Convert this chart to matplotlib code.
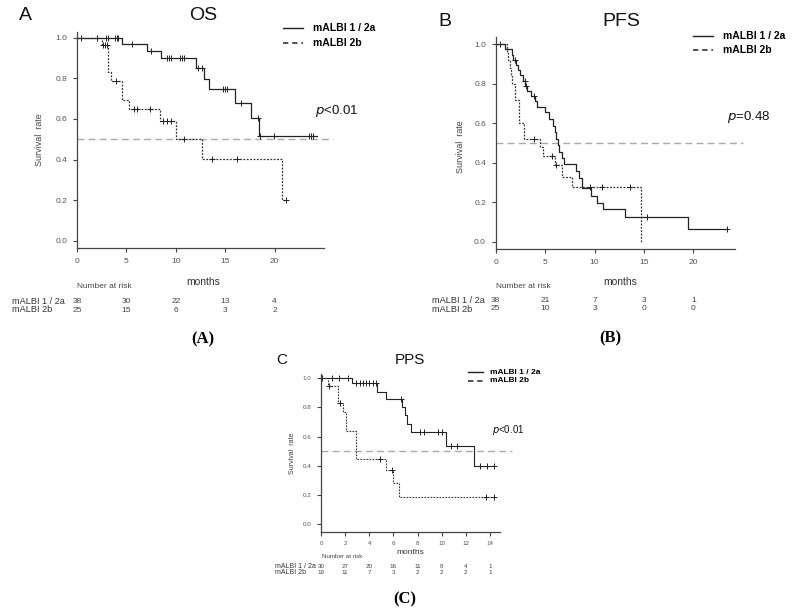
import numpy as np
import matplotlib
matplotlib.use("Agg")
import matplotlib.pyplot as plt
from matplotlib.lines import Line2D

plt.rcParams['font.family'] = ['Liberation Sans', 'DejaVu Sans']

W, H = 793, 613

# ---------------- data ----------------
# Panel A (OS)
a1_t = [4.6, 7.05, 8.55, 12.0, 12.87, 13.4, 15.95, 17.6, 18.45]
a1_s = [0.970, 0.936, 0.900, 0.850, 0.797, 0.746, 0.680, 0.603, 0.514]
a1_end = 24.3
a1_c = [0.4, 2.0, 2.9, 3.1, 3.8, 4.0, 4.2, 5.6, 7.5, 9.08, 9.29, 9.49, 10.47, 10.67, 10.87,
        12.23, 12.63, 15.02, 14.82, 15.23, 16.55, 18.37, 18.55, 19.93, 23.5, 23.7, 23.9]
a2_t = [2.5, 3.1, 3.45, 4.56, 5.3, 8.44, 10.0, 12.63, 20.74]
a2_s = [0.964, 0.832, 0.787, 0.693, 0.647, 0.591, 0.501, 0.401, 0.200]
a2_end = 21.2
a2_c = [2.63, 2.84, 3.04, 3.95, 5.78, 6.05, 7.37, 8.75, 9.15, 9.55, 10.84, 13.7, 16.2, 21.2]

# Panel B (PFS)
b1_t = [0.95, 1.6, 1.8, 2.05, 2.3, 2.5, 2.75, 3.0, 3.2, 3.6, 3.95, 4.15, 5.0, 5.4, 5.75,
        5.95, 6.1, 6.25, 6.4, 6.7, 6.95, 8.1, 8.4, 8.7, 9.6, 10.2, 10.9, 13.1, 19.4]
b1_s = [0.974, 0.947, 0.921, 0.895, 0.868, 0.842, 0.816, 0.789, 0.763, 0.737, 0.711, 0.684,
        0.655, 0.620, 0.585, 0.555, 0.520, 0.490, 0.455, 0.425, 0.395, 0.356, 0.320, 0.272,
        0.230, 0.197, 0.165, 0.124, 0.062]
b1_end = 23.4
b1_c = [0.44, 1.95, 2.95, 3.1, 3.85, 15.35, 23.4]
b2_t = [1.1, 1.25, 1.4, 1.5, 1.6, 1.95, 2.4, 2.9, 4.5, 4.75, 6.0, 6.7, 7.7, 14.7]
b2_s = [0.96, 0.92, 0.88, 0.84, 0.80, 0.72, 0.60, 0.52, 0.477, 0.435, 0.387, 0.33, 0.275, 0.0]
b2_end = 14.7
b2_c = [3.9, 5.7, 6.1, 9.55, 10.7, 13.6]

# Panel C (PPS)
c1_t = [2.6, 4.6, 5.39, 6.74, 6.96, 7.15, 7.46, 10.38, 12.68]
c1_s = [0.966, 0.909, 0.856, 0.806, 0.749, 0.690, 0.630, 0.539, 0.402]
c1_end = 14.36
c1_c = [0.05, 0.94, 1.49, 2.2, 2.9, 3.2, 3.45, 3.73, 4.0, 4.28, 4.56, 6.63, 8.2, 8.54, 9.72,
        10.05, 10.74, 11.3, 13.18, 13.73, 14.3]
c2_t = [0.55, 1.43, 1.85, 2.04, 2.9, 5.39, 5.94, 6.49]
c2_s = [0.95, 0.83, 0.77, 0.64, 0.445, 0.372, 0.280, 0.185]
c2_end = 14.36
c2_c = [0.69, 1.6, 4.89, 5.86, 13.65, 14.3]

# numbers at risk
a_risk_t = [0, 5, 10, 15, 20]
a_risk1 = [38, 30, 22, 13, 4]
a_risk2 = [25, 15, 6, 3, 2]
b_risk_t = [0, 5, 10, 15, 20]
b_risk1 = [38, 21, 7, 3, 1]
b_risk2 = [25, 10, 3, 0, 0]
c_risk_t = [0, 2, 4, 6, 8, 10, 12, 14]
c_risk1 = [30, 27, 20, 16, 11, 8, 4, 1]
c_risk2 = [19, 11, 7, 3, 2, 2, 2, 1]

group_labels = ["mALBI 1 / 2a", "mALBI 2b"]
yticks = [0.0, 0.2, 0.4, 0.6, 0.8, 1.0]

# ---------------- helpers ----------------
fig = plt.figure(figsize=(W / 100, H / 100), dpi=100)
fig.patch.set_facecolor('white')


def fx(x):
    return x / W


def fy(y):
    return 1 - y / H


def km(ax, t, s, end, cens, style, lw, ms, color):
    t = np.asarray(t, float)
    s = np.asarray(s, float)
    xs = np.concatenate([[0], t, [end]])
    ys = np.concatenate([[1.0], s, [s[-1]]])
    ax.step(xs, ys, where='post', color=color, lw=lw, linestyle=style, clip_on=False)
    cens = np.asarray(cens, float)
    idx = np.searchsorted(t, cens, side='right')
    cy = np.where(idx == 0, 1.0, s[np.maximum(idx - 1, 0)])
    ax.plot(cens, cy, linestyle='none', marker='+', color='#222222', ms=ms, mew=0.7, clip_on=False)


def panel(left, right, top, bottom, xlim, ylim, xticks, tick_fs, ref_end):
    ax = fig.add_axes([fx(left), fy(bottom), fx(right) - fx(left), fy(top) - fy(bottom)])
    ax.set_xlim(*xlim)
    ax.set_ylim(*ylim)
    for sp in ['top', 'right']:
        ax.spines[sp].set_visible(False)
    for sp in ['left', 'bottom']:
        ax.spines[sp].set_color('#444444')
        ax.spines[sp].set_linewidth(0.9)
    ax.set_xticks(xticks)
    ax.set_yticks(yticks)
    ax.set_yticklabels([f"{v:.1f}" for v in yticks])
    ax.tick_params(axis='both', direction='out', length=3, width=0.8, color='#444444',
                   labelsize=tick_fs, labelcolor='#555555', pad=4)
    ax.plot([0, ref_end], [0.5, 0.5], color='#aaaaaa', lw=1.0, linestyle=(0, (5, 3)), clip_on=False)
    ax.patch.set_alpha(0)
    return ax


def texts(letter, lxy, title, txy, big_fs, leg, leg_fs, pxy, p_text, p_fs, surv_xy, surv_fs,
          months_xy, m_fs, nar_xy, nar_fs, row_x, row_y, row_fs, risk_t, r1, r2, ax, sub, sxy, sub_fs):
    fig.text(fx(lxy[0]), fy(lxy[1]), letter, fontsize=big_fs, ha='center', va='center', color='#111111')
    fig.text(fx(txy[0]), fy(txy[1]), title, fontsize=big_fs, ha='center', va='center', color='#111111')
    (lx0, lx1, ly1, ly2, ltx) = leg
    fig.add_artist(Line2D([fx(lx0), fx(lx1)], [fy(ly1), fy(ly1)], color='#222222', lw=1.0))
    fig.add_artist(Line2D([fx(lx0), fx(lx1)], [fy(ly2), fy(ly2)], color='#222222', lw=1.1,
                          linestyle=(0, (3.5, 2.5))))
    fig.text(fx(ltx), fy(ly1), group_labels[0], fontsize=leg_fs, fontweight='bold', ha='left', va='center')
    fig.text(fx(ltx), fy(ly2), group_labels[1], fontsize=leg_fs, fontweight='bold', ha='left', va='center')
    fig.text(fx(pxy[0]), fy(pxy[1]), p_text, fontsize=p_fs, ha='left', va='center', color='#111111')
    fig.text(fx(surv_xy[0]), fy(surv_xy[1]), "Survival  rate", fontsize=surv_fs, rotation=90,
             ha='center', va='center', color='#444444')
    fig.text(fx(months_xy[0]), fy(months_xy[1]), "months", fontsize=m_fs, ha='center', va='center', color='#333333')
    fig.text(fx(nar_xy[0]), fy(nar_xy[1]), "Number at risk", fontsize=nar_fs, ha='left', va='center', color='#444444')
    fig.text(fx(row_x), fy(row_y[0]), group_labels[0], fontsize=row_fs, ha='left', va='center', color='#333333')
    fig.text(fx(row_x), fy(row_y[1]), group_labels[1], fontsize=row_fs, ha='left', va='center', color='#333333')
    for tt, v1, v2 in zip(risk_t, r1, r2):
        xd = ax.transData.transform((tt, 0))[0]
        xf = fig.transFigure.inverted().transform((xd, 0))[0]
        fig.text(xf, fy(row_y[0]), str(v1), fontsize=nar_fs, ha='center', va='center', color='#444444')
        fig.text(xf, fy(row_y[1]), str(v2), fontsize=nar_fs, ha='center', va='center', color='#444444')
    fig.text(fx(sxy[0]), fy(sxy[1]), sub, fontsize=sub_fs, fontweight='bold', ha='center', va='center',
             family=['Liberation Serif', 'DejaVu Serif'])


dotted = (0, (1.5, 1.2))

# ---------------- Panel A ----------------
axA = panel(77, 324, 31.6, 248.3, (0, 25.0), (-0.037, 1.03), [0, 5, 10, 15, 20], 6, 25.9)
km(axA, a1_t, a1_s, a1_end, a1_c, '-', 0.9, 5, '#222222')
km(axA, a2_t, a2_s, a2_end, a2_c, dotted, 0.9, 5, '#333333')
texts("A", (25, 16), "OS", (203, 16), 14, (283, 303, 28, 43, 313), 7.5,
      (315, 111), r"$p$<0.01", 9.5, (40, 140), 6.5, (203, 282), 7.5, (77, 287), 6,
      12, (301.5, 310), 6.6, a_risk_t, a_risk1, a_risk2, axA, "(A)", (203, 339), 12)

# ---------------- Panel B ----------------
axB = panel(495.7, 735, 36.7, 249.3, (0, 24.2), (-0.0385, 1.038), [0, 5, 10, 15, 20], 6, 25.0)
km(axB, b1_t, b1_s, b1_end, b1_c, '-', 0.9, 5, '#222222')
km(axB, b2_t, b2_s, b2_end, b2_c, dotted, 0.9, 5, '#333333')
texts("B", (445, 22), "PFS", (621, 22), 14, (693, 713, 36, 50, 723), 7.5,
      (727, 117), r"$p$=0.48", 9.5, (460, 147), 6.5, (620, 282), 7.5, (496, 286), 6,
      432, (300, 309), 6.6, b_risk_t, b_risk1, b_risk2, axB, "(B)", (610, 338), 12)

# ---------------- Panel C ----------------
axC = panel(321, 500, 373.9, 531.6, (0, 14.83), (-0.05, 1.03), [0, 2, 4, 6, 8, 10, 12, 14], 4.5, 15.8)
km(axC, c1_t, c1_s, c1_end, c1_c, '-', 0.8, 4, '#222222')
km(axC, c2_t, c2_s, c2_end, c2_c, dotted, 0.8, 4, '#333333')
texts("C", (282, 360), "PPS", (410, 360), 11, (468, 483, 372, 381, 490), 6,
      (492, 430), r"$p$<0.01", 7, (293, 453), 5, (410, 553), 6, (322, 557), 4.5,
      275, (566.5, 572.5), 5, c_risk_t, c_risk1, c_risk2, axC, "(C)", (405, 599), 12)

fig.savefig("out.png", dpi=100, facecolor='white')
